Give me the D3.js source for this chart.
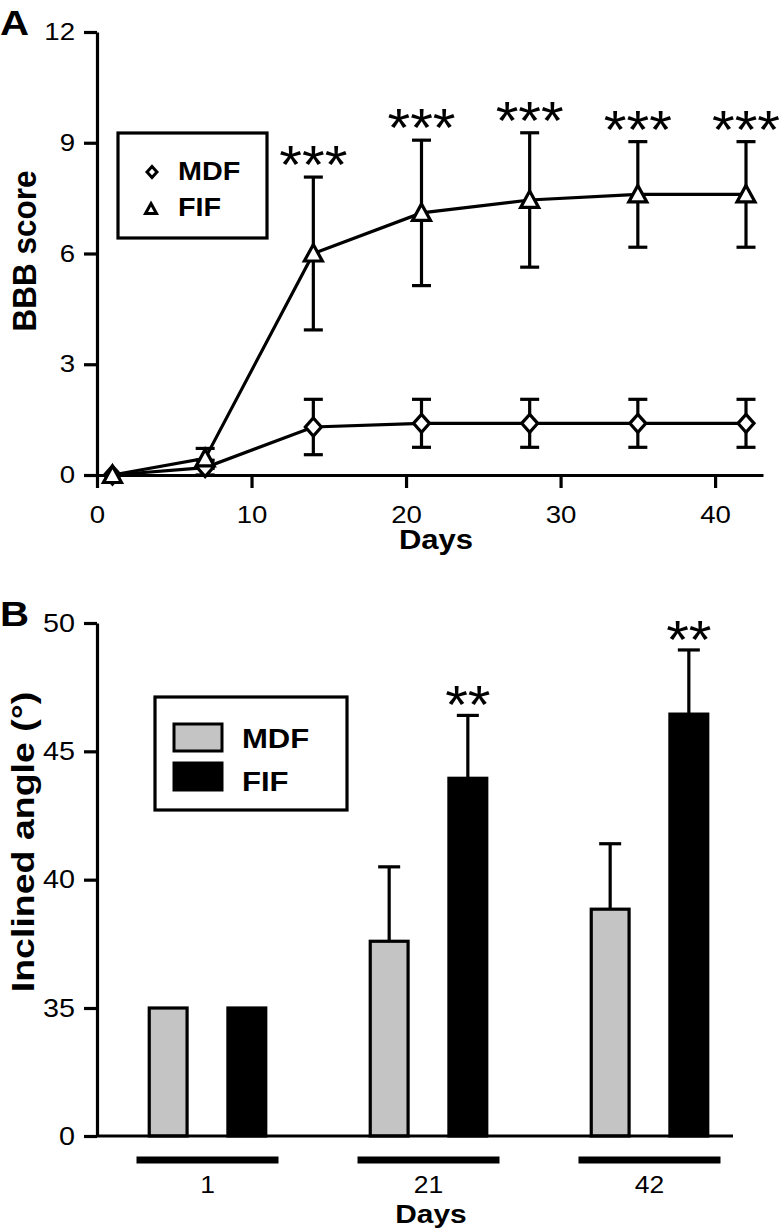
<!DOCTYPE html>
<html>
<head>
<meta charset="utf-8">
<script src="https://cdn.jsdelivr.net/npm/d3@7"></script>
<style>
  html, body { margin: 0; padding: 0; background: #fff; }
  svg { display: block; font-family: "Liberation Sans", Arial, Helvetica, sans-serif; }
</style>
</head>
<body>
<svg id="chart" width="780" height="1229"></svg>
<script>
// ---------- Panel A data ----------
const daysA = [1, 7, 14, 21, 28, 35, 42];
const mdfMean = [0, 0.2, 1.3, 1.4, 1.4, 1.4, 1.4];
const mdfErr  = [0, 0.2, 0.75, 0.65, 0.65, 0.65, 0.65];
const fifMean = [0, 0.45, 6.0, 7.1, 7.45, 7.6, 7.6];
const fifErr  = [0, 0.27, 2.07, 1.97, 1.82, 1.43, 1.43];
const fifSig  = ["", "", "***", "***", "***", "***", "***"];
const yTicksA = [0, 3, 6, 9, 12];
const xTicksA = [0, 10, 20, 30, 40];

// ---------- Panel B data ----------
const daysB = ["1", "21", "42"];
const seriesB = ["MDF", "FIF"];
const bMdf    = [35, 37.6, 38.85];
const bMdfErr = [0, 2.9, 2.55];
const bFif    = [35, 43.95, 46.45];
const bFifErr = [0, 2.45, 2.5];
const bSig    = ["", "**", "**"];
const yTicksB = [0, 35, 40, 45, 50];

const SX = 1.15; // horizontal glyph stretch of the reference
const svg = d3.select("#chart");

function stretch(sel, k) {
  sel.each(function () {
    const t = d3.select(this);
    const x = +t.attr("x") || 0, y = +t.attr("y") || 0;
    t.attr("transform", `translate(${x},${y}) scale(${k},1)`).attr("x", 0).attr("y", 0);
  });
}
function styleAxis(g, fs) {
  g.selectAll("path.domain").attr("stroke", "#000").attr("stroke-width", 3.2);
  g.selectAll(".tick line").attr("stroke", "#000").attr("stroke-width", 3.2);
  g.selectAll(".tick text").attr("fill", "#000").attr("font-size", fs)
    .attr("font-family", '"Liberation Sans", Arial, sans-serif');
}

// =============== PANEL A ===============
const A = { left: 97, right: 763, top: 32, bottom: 475 };
const xA = d3.scaleLinear().domain([0, 43.1]).range([A.left, A.right]);
const yA = d3.scaleLinear().domain([0, 12]).range([A.bottom, A.top]);

const gA = svg.append("g");
const axYA = gA.append("g").attr("transform", `translate(${A.left},0)`)
  .call(d3.axisLeft(yA).tickValues(yTicksA).tickSize(13).tickSizeOuter(0).tickPadding(9));
styleAxis(axYA, 24);
axYA.selectAll(".tick text").each(function () {
  const t = d3.select(this);
  t.attr("transform", `translate(${t.attr("x")},0) scale(${SX},1)`).attr("x", 0);
});
const axXA = gA.append("g").attr("transform", `translate(0,${A.bottom})`)
  .call(d3.axisBottom(xA).tickValues(xTicksA).tickSize(13).tickSizeOuter(0).tickPadding(18));
styleAxis(axXA, 24);
axXA.selectAll(".tick text").attr("transform", `scale(${SX},1)`);

// error bars A
function errBars(g, means, errs, cap) {
  const d = daysA.map((x, i) => ({ x, m: means[i], e: errs[i] })).filter(d => d.e > 0);
  g.selectAll(null).data(d).enter().append("line")
    .attr("x1", d => xA(d.x)).attr("x2", d => xA(d.x))
    .attr("y1", d => yA(d.m - d.e)).attr("y2", d => yA(d.m + d.e))
    .attr("stroke", "#000").attr("stroke-width", 3.2);
  ["+", "-"].forEach(s => {
    g.selectAll(null).data(d).enter().append("line")
      .attr("x1", d => xA(d.x) - cap).attr("x2", d => xA(d.x) + cap)
      .attr("y1", d => yA(s === "+" ? d.m + d.e : d.m - d.e))
      .attr("y2", d => yA(s === "+" ? d.m + d.e : d.m - d.e))
      .attr("stroke", "#000").attr("stroke-width", 3.2);
  });
}
errBars(gA, mdfMean, mdfErr, 9.5);
errBars(gA, fifMean, fifErr, 9.5);

const lineA = d3.line().x(d => xA(d[0])).y(d => yA(d[1]));
gA.append("path").datum(daysA.map((x, i) => [x, mdfMean[i]])).attr("d", lineA)
  .attr("fill", "none").attr("stroke", "#000").attr("stroke-width", 3.2);
gA.append("path").datum(daysA.map((x, i) => [x, fifMean[i]])).attr("d", lineA)
  .attr("fill", "none").attr("stroke", "#000").attr("stroke-width", 3.2);

const diamondPath = (w, h) => `M0,${-h}L${w},0L0,${h}L${-w},0Z`;
const trianglePath = (w, h1, h2) => `M0,${-h1}L${w},${h2}L${-w},${h2}Z`;

gA.selectAll(null).data(daysA.map((x, i) => [x, mdfMean[i]])).enter().append("path")
  .attr("d", diamondPath(8, 9))
  .attr("transform", d => `translate(${xA(d[0])},${yA(d[1])})`)
  .attr("fill", "#fff").attr("stroke", "#000").attr("stroke-width", 3.2);
gA.selectAll(null).data(daysA.map((x, i) => [x, fifMean[i]])).enter().append("path")
  .attr("d", trianglePath(9, 9, 7.5))
  .attr("transform", d => `translate(${xA(d[0])},${yA(d[1])})`)
  .attr("fill", "#fff").attr("stroke", "#000").attr("stroke-width", 3.2).attr("stroke-linejoin", "miter");

// significance A
const sigA = gA.selectAll(null).data(daysA.map((x, i) => ({ x, t: fifSig[i], top: fifMean[i] + fifErr[i] })).filter(d => d.t))
  .enter().append("text")
  .attr("x", d => xA(d.x)).attr("y", d => yA(d.top) + 6)
  .attr("text-anchor", "middle").attr("font-size", 53).text(d => d.t);
stretch(sigA, 1.1);

// legend A
const legA = gA.append("g");
legA.append("rect").attr("x", 118).attr("y", 133).attr("width", 149).attr("height", 105)
  .attr("fill", "#fff").attr("stroke", "#000").attr("stroke-width", 3.2);
legA.append("path").attr("d", diamondPath(5, 5.5)).attr("transform", "translate(152,172)")
  .attr("fill", "#fff").attr("stroke", "#000").attr("stroke-width", 3);
legA.append("path").attr("d", trianglePath(5.5, 5.5, 4.5)).attr("transform", "translate(151,209)")
  .attr("fill", "#fff").attr("stroke", "#000").attr("stroke-width", 3);
const legAT = legA.selectAll(null).data([["MDF", 180], ["FIF", 216]]).enter().append("text")
  .attr("x", 178).attr("y", d => d[1]).attr("font-size", 25).attr("font-weight", "bold").text(d => d[0]);
stretch(legAT, SX);

// axis titles A
const tA = gA.append("text").attr("x", 436).attr("y", 549).attr("text-anchor", "middle")
  .attr("font-size", 27).attr("font-weight", "bold").text("Days");
stretch(tA, SX);
gA.append("text").attr("transform", "translate(36,251) rotate(-90) scale(1.05,1.1)")
  .attr("text-anchor", "middle").attr("font-size", 30).attr("font-weight", "bold").text("BBB score");
const pA = gA.append("text").attr("x", 0).attr("y", 35).attr("font-size", 35).attr("font-weight", "bold").text("A");
stretch(pA, SX);

// =============== PANEL B ===============
const B = { left: 97, right: 733, top: 623, bottom: 1136 };
const yB = d3.scaleLinear().domain([0, 35, 50]).range([B.bottom, 1008, B.top]);
const x0 = d3.scaleBand().domain(daysB).range([97, 760]).paddingInner(0).paddingOuter(0);
const x1 = d3.scaleBand().domain(seriesB).range([0, x0.bandwidth()]).paddingInner(0.519).paddingOuter(0.664);
const fillB = { MDF: "#c4c4c4", FIF: "#000" };

const gB = svg.append("g");
const axYB = gB.append("g").attr("transform", `translate(${B.left},0)`)
  .call(d3.axisLeft(yB).tickValues(yTicksB).tickSize(13).tickSizeOuter(0).tickPadding(9));
styleAxis(axYB, 25);
axYB.selectAll(".tick text").each(function () {
  const t = d3.select(this);
  t.attr("transform", `translate(${t.attr("x")},0) scale(${SX},1)`).attr("x", 0);
});

const barsB = [];
daysB.forEach((d, i) => {
  barsB.push({ day: d, s: "MDF", v: bMdf[i], e: bMdfErr[i], sig: "" });
  barsB.push({ day: d, s: "FIF", v: bFif[i], e: bFifErr[i], sig: bSig[i] });
});
const bx = d => x0(d.day) + x1(d.s);
// error bars (upper only)
const withErr = barsB.filter(d => d.e > 0);
gB.selectAll(null).data(withErr).enter().append("line")
  .attr("x1", d => bx(d) + x1.bandwidth() / 2).attr("x2", d => bx(d) + x1.bandwidth() / 2)
  .attr("y1", d => yB(d.v)).attr("y2", d => yB(d.v + d.e))
  .attr("stroke", "#000").attr("stroke-width", 3.2);
gB.selectAll(null).data(withErr).enter().append("line")
  .attr("x1", d => bx(d) + x1.bandwidth() / 2 - 11).attr("x2", d => bx(d) + x1.bandwidth() / 2 + 11)
  .attr("y1", d => yB(d.v + d.e)).attr("y2", d => yB(d.v + d.e))
  .attr("stroke", "#000").attr("stroke-width", 3.2);
gB.selectAll(null).data(barsB).enter().append("rect")
  .attr("x", d => bx(d)).attr("width", x1.bandwidth())
  .attr("y", d => yB(d.v)).attr("height", d => yB(0) - yB(d.v))
  .attr("fill", d => fillB[d.s]).attr("stroke", "#000").attr("stroke-width", 3.2);

// x-axis line B
gB.append("line").attr("x1", B.left).attr("x2", B.right).attr("y1", B.bottom).attr("y2", B.bottom)
  .attr("stroke", "#000").attr("stroke-width", 3.2);

// significance B
const sigB = gB.selectAll(null).data(barsB.filter(d => d.sig)).enter().append("text")
  .attr("x", d => bx(d) + x1.bandwidth() / 2).attr("y", d => yB(d.v + d.e) + 8)
  .attr("text-anchor", "middle").attr("font-size", 53).text(d => d.sig);
stretch(sigB, 1.1);

// group underbars and labels
gB.selectAll(null).data(daysB).enter().append("rect")
  .attr("x", d => x0(d) + x0.bandwidth() / 2 - 71).attr("width", 142)
  .attr("y", 1156.5).attr("height", 7).attr("fill", "#000");
const labB = gB.selectAll(null).data(daysB).enter().append("text")
  .attr("x", d => x0(d) + x0.bandwidth() / 2).attr("y", 1193)
  .attr("text-anchor", "middle").attr("font-size", 23).text(d => d);
stretch(labB, SX);
const tB = gB.append("text").attr("x", 431).attr("y", 1223).attr("text-anchor", "middle")
  .attr("font-size", 26).attr("font-weight", "bold").text("Days");
stretch(tB, SX);
gB.append("text").attr("transform", "translate(34,842) rotate(-90) scale(1.25,1.05)")
  .attr("text-anchor", "middle").attr("font-size", 30).attr("font-weight", "bold").text("Inclined angle (°)");
const pB = gB.append("text").attr("x", 0).attr("y", 626).attr("font-size", 35).attr("font-weight", "bold").text("B");
stretch(pB, SX);

// legend B
const legB = gB.append("g");
legB.append("rect").attr("x", 155).attr("y", 697).attr("width", 192).attr("height", 113)
  .attr("fill", "#fff").attr("stroke", "#000").attr("stroke-width", 3.2);
legB.selectAll(null).data(seriesB).enter().append("rect")
  .attr("x", 174).attr("y", (d, i) => 724 + i * 39).attr("width", 48).attr("height", 27)
  .attr("fill", d => fillB[d]).attr("stroke", "#000").attr("stroke-width", 3);
const legBT = legB.selectAll(null).data(seriesB).enter().append("text")
  .attr("x", 242).attr("y", (d, i) => 748 + i * 43).attr("font-size", 27).attr("font-weight", "bold").text(d => d);
stretch(legBT, SX);
</script>
</body>
</html>
